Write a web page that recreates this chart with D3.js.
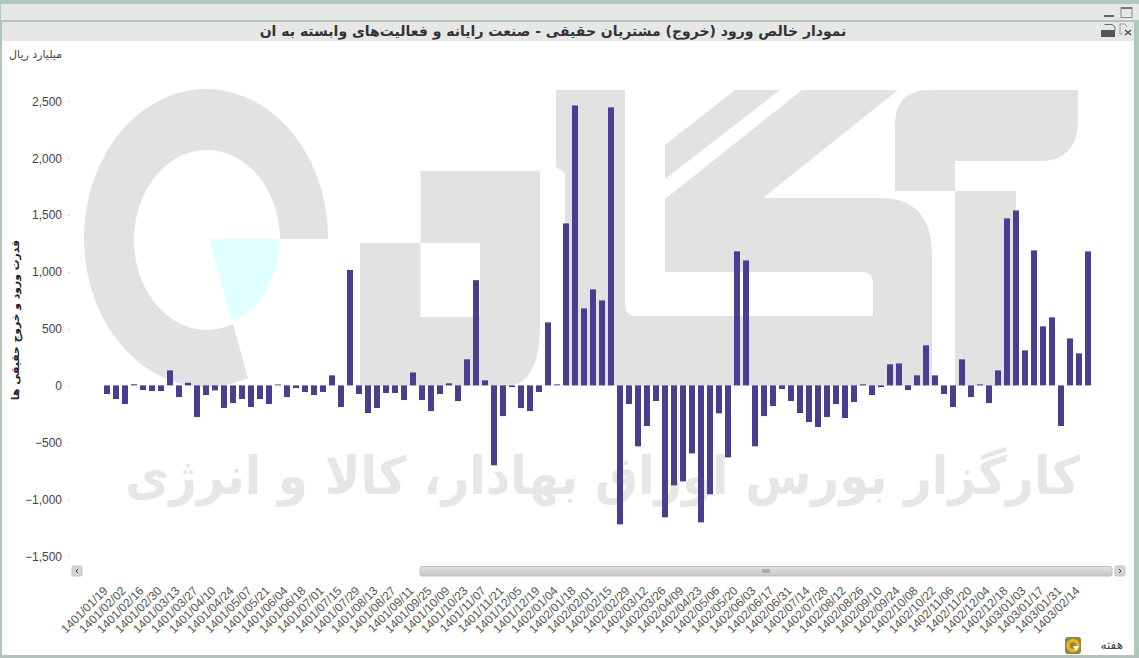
<!DOCTYPE html>
<html><head><meta charset="utf-8">
<script src="https://cdn.jsdelivr.net/npm/d3@7/dist/d3.min.js"></script>
<style>html,body{margin:0;padding:0;background:#fff;overflow:hidden}svg{display:block}
.fa{font-family:"DejaVu Sans",sans-serif;direction:rtl}
.num{font-family:"Liberation Sans",Arial,sans-serif}
</style></head><body><svg id="c" width="1139" height="658"></svg>
<script>
const chartTitle = "نمودار خالص ورود (خروج) مشتریان حقیقی - صنعت رایانه و فعالیت‌های وابسته به ان";
const unitLabel = "میلیارد ریال";
const yAxisTitle = "قدرت ورود و خروج حقیقی ها";
const periodLabel = "هفته";
const watermarkText = "کارگزار بورس اوراق بهادار، کالا و انرژی";
const yTicks = [-1500,-1000,-500,0,500,1000,1500,2000,2500];
const tickLabels = ["1401/01/19","1401/02/02","1401/02/16","1401/02/30","1401/03/13","1401/03/27","1401/04/10","1401/04/24","1401/05/07","1401/05/21","1401/06/04","1401/06/18","1401/07/01","1401/07/15","1401/07/29","1401/08/13","1401/08/27","1401/09/11","1401/09/25","1401/10/09","1401/10/23","1401/11/07","1401/11/21","1401/12/05","1401/12/19","1402/01/04","1402/01/18","1402/02/01","1402/02/15","1402/02/29","1402/03/12","1402/03/26","1402/04/09","1402/04/23","1402/05/06","1402/05/20","1402/06/03","1402/06/17","1402/06/31","1402/07/14","1402/07/28","1402/08/12","1402/08/26","1402/09/10","1402/09/24","1402/10/08","1402/10/22","1402/11/06","1402/11/20","1402/12/04","1402/12/18","1403/01/03","1403/01/17","1403/01/31","1403/02/14"];
const netFlow = [-76,-120,-164,10,-41,-50,-50,132,-103,23,-278,-85,-44,-199,-155,-120,-190,-120,-164,8,-103,-23,-58,-85,-58,88,-190,1015,-76,-243,-199,-67,-67,-129,114,-129,-226,-76,18,-138,229,925,44,-703,-270,-15,-199,-226,-58,554,9,1424,2461,677,844,747,2444,-1222,-164,-536,-357,-138,-1160,-879,-844,-598,-1204,-958,-246,-633,1178,1099,-536,-270,-182,-32,-138,-243,-322,-366,-278,-164,-287,-146,9,-85,-15,185,193,-41,88,352,88,-76,-190,229,-103,9,-155,132,1468,1538,308,1187,519,598,-357,413,281,1178];

const svg = d3.select("#c");
const frame = "#aec9bc", bar = "#4b3d8f", panel = "#e6e7e6", wm = "#e2e2e2";

// window frame
svg.append("rect").attr("width",1139).attr("height",658).attr("fill",frame);
svg.append("rect").attr("x",2).attr("y",41).attr("width",1132).attr("height",614).attr("fill","#fff");
svg.append("rect").attr("x",1).attr("y",4).attr("width",1138).attr("height",16).attr("fill",panel);
svg.append("rect").attr("x",2).attr("y",22).attr("width",1132).attr("height",19).attr("fill",panel);
svg.append("rect").attr("x",0).attr("y",655).attr("width",1139).attr("height",3).attr("fill","#b4c2bb");

// watermark logo
const logo = svg.append("g").attr("fill",wm);
logo.append("path").attr("d","M328,239 A122,149 0 1 0 248,378 L233,324 A73,90 0 1 1 280,239 Z");
logo.append("path").attr("fill","#e0ffff").attr("d","M209,239 H280 A73,90 0 0 1 232,322 Z");
logo.append("path").attr("fill-rule","evenodd").attr("d","M360,243 H420.5 V171 H540 V325 Q540,386 505,386 H360 Z M420.5,243 H480 V317 H420.5 Z");
logo.append("path").attr("d","M556,90 H625 V303 Q625,316 635,316 H873 V285 Q873,272 862,272 H665 V199 L802,90 H898 L763,198 H880 Q932,198 932,255 V386 H565 V173 L556,167 Z");
logo.append("path").attr("d","M665,145 L735,90 H780 L665,179 Z");
logo.append("path").attr("d","M895,191 V125 Q895,90 930,90 H1078 V125 Q1075,161 1040,161 H955 V191 Z");
logo.append("path").attr("d","M955,191 H1016 V386 H955 Z");
const wmText = logo.append("text").attr("class","fa").attr("font-size",52).attr("font-weight","bold")
  .attr("fill","#e6e6e6").attr("text-anchor","middle").text(watermarkText);
wmText.attr("transform",`translate(602.5,494) scale(${955/wmText.node().getComputedTextLength()},1)`);

// scales
const x = d3.scaleBand().domain(d3.range(netFlow.length)).range([102.5,1092.5]).paddingInner(1/3).paddingOuter(1/6);
const y = d3.scaleLinear().domain([-1500,2500]).range([556,101]);

// bars
svg.append("g").selectAll("rect").data(netFlow).join("rect")
  .attr("x",(d,i)=>x(i)).attr("width",x.bandwidth())
  .attr("y",d=>Math.min(y(d),y(0))).attr("height",d=>Math.abs(y(d)-y(0))).attr("fill",bar);

// y axis
const yAxis = d3.axisLeft(y).tickValues(yTicks).tickFormat(d3.format(",")).tickSize(2).tickPadding(6);
const gy = svg.append("g").attr("transform","translate(70,0.3)").call(yAxis);
gy.select(".domain").remove();
gy.selectAll("line").attr("stroke","#d8d8d8");
gy.selectAll("text").attr("class","num").attr("font-size",12).attr("fill","#444").style("font-family",'"Liberation Sans",Arial,sans-serif');

// x axis labels
const xAxis = d3.axisBottom(x).tickValues(tickLabels.map((d,i)=>i*2)).tickFormat(d=>tickLabels[d/2]).tickSize(0);
const gx = svg.append("g").attr("transform","translate(-5.5,583)").call(xAxis);
gx.select(".domain").remove();
gx.selectAll("text").attr("transform","rotate(-45)").attr("text-anchor","end").attr("dx","-1px").attr("dy","8px")
  .attr("font-size",12).attr("fill","#555").style("font-family",'"Liberation Sans",Arial,sans-serif');

// titles
svg.append("text").attr("class","fa").attr("x",553).attr("y",36).attr("text-anchor","middle").attr("font-size",14)
  .attr("font-weight","bold").attr("fill","#333").text(chartTitle);
svg.append("text").attr("class","fa").attr("x",62).attr("y",58).attr("font-size",11).attr("fill","#444").attr("text-anchor","start").text(unitLabel);
svg.append("text").attr("class","fa").attr("transform","translate(18.5,320) rotate(-90)").attr("text-anchor","middle")
  .attr("font-size",10.8).attr("font-weight","bold").attr("fill","#222").text(yAxisTitle);
svg.append("text").attr("class","fa").attr("x",1123).attr("y",649).attr("font-size",12).attr("fill","#444").attr("text-anchor","start").text(periodLabel);

// scrollbar
function btn(px,label){
  svg.append("rect").attr("x",px).attr("y",566).attr("width",10).attr("height",10).attr("rx",1.5).attr("fill","#d4d4d4").attr("stroke","#c4c4c4");
  svg.append("path").attr("d",label<0?`M${px+6},569 L${px+4},571 L${px+6},573`:`M${px+4},569 L${px+6},571 L${px+4},573`).attr("fill","none").attr("stroke","#444");
}
btn(72,-1); btn(1115,1);
const grad = svg.append("defs").append("linearGradient").attr("id","sb").attr("x1",0).attr("y1",0).attr("x2",0).attr("y2",1);
grad.append("stop").attr("offset",0).attr("stop-color","#e2e2e2");
grad.append("stop").attr("offset",1).attr("stop-color","#c6c6c6");
svg.append("rect").attr("x",420).attr("y",566.5).attr("width",692).attr("height",9.5).attr("rx",2).attr("fill","url(#sb)").attr("stroke","#c0c0c0");
svg.append("rect").attr("x",762).attr("y",569).attr("width",8).attr("height",4).attr("fill","#aaa");

// window icons
svg.append("rect").attr("x",1104).attr("y",15).attr("width",10).attr("height",2).attr("fill","#666");
svg.append("rect").attr("x",1121).attr("y",7.5).attr("width",11).attr("height",10).attr("fill","none").attr("stroke","#888");
svg.append("rect").attr("x",1121).attr("y",7).attr("width",11).attr("height",2).attr("fill","#777");
svg.append("path").attr("d","M1104.5,24.5 H1112 L1115,27 V30").attr("fill","none").attr("stroke","#666");
svg.append("path").attr("d","M1101,30 H1115 V37 H1101 Z").attr("fill","#555");
svg.append("path").attr("d","M1120,24 H1125 L1127,27 M1120,24 V34 H1123").attr("fill","none").attr("stroke","#999");
svg.append("path").attr("d","M1125,30 L1131,35 M1131,30 L1125,35").attr("stroke","#444").attr("stroke-width",1.2);

// refresh icon
svg.append("rect").attr("x",1065).attr("y",637).attr("width",16).attr("height",17).attr("rx",3).attr("fill","#8a8a40");
svg.append("circle").attr("cx",1073).attr("cy",645.5).attr("r",5).attr("fill","none").attr("stroke","#f0b020").attr("stroke-width",3.5);
svg.append("path").attr("d","M1073,646 L1079,646 L1076,651 Z").attr("fill","#fff");
</script></body></html>
